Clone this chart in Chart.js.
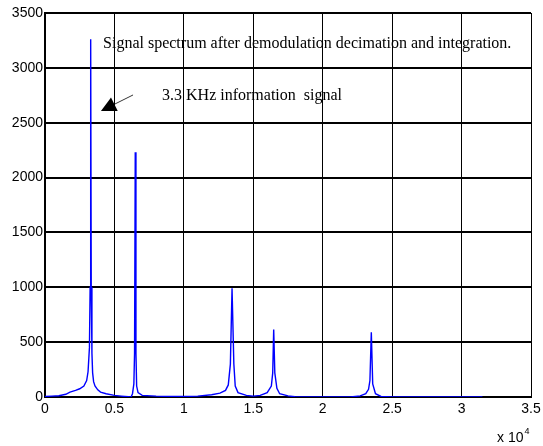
<!DOCTYPE html>
<html><head><meta charset="utf-8">
<script src="https://cdn.jsdelivr.net/npm/chart.js@4/dist/chart.umd.min.js"></script>
<style>html,body{margin:0;padding:0;background:#fff;}canvas{display:block;}</style>
</head><body>
<canvas id="c" width="543" height="446"></canvas>
<script>
// Frequency (Hz) and spectrum magnitude
const freqHz = [0,500,1000,1500,1800,2200,2500,2800,3000,3100,3200,3250,3290,3330,3380,3430,3500,3600,3800,4000,4400,5000,5500,6000,6200,6300,6400,6450,6500,6550,6600,6700,7000,8000,9000,10000,11000,12000,12600,13000,13200,13350,13470,13600,13700,13900,14500,15000,15500,16000,16300,16400,16470,16550,16700,16900,17500,18000,19000,22000,22700,23100,23300,23400,23500,23600,23800,24200,25000,31500];
const magnitude = [5,8,12,25,45,60,75,100,150,230,450,1000,3260,1000,400,220,140,100,65,45,30,15,8,2,0,30,120,400,2230,400,100,40,15,8,5,5,8,20,35,60,110,300,990,300,100,40,15,8,15,40,100,220,615,220,80,30,10,2,0,0,10,30,70,150,590,120,30,5,0,0];
const xTicks = [0,5000,10000,15000,20000,25000,30000,35000];
const yTicks = [0,500,1000,1500,2000,2500,3000,3500];
const titleText = "Signal spectrum after demodulation decimation and integration.";
const arrowText = "3.3 KHz information  signal";
const titleAt = {x: 4180, y: 3220};
const labelAt = {x: 8430, y: 2745};
const arrowTail = {x: 6340, y: 2753};
const arrowHead = {x: 4030, y: 2607};

const pts = freqHz.map((f, i) => ({x: f, y: magnitude[i]}));

const annot = {
  id: 'annot',
  afterDraw(chart) {
    const {ctx, scales: {x, y}, chartArea} = chart;
    ctx.save();
    ctx.fillStyle = '#000';
    ctx.strokeStyle = '#000';
    ctx.font = '16px "Liberation Serif", "Times New Roman", serif';
    ctx.textBaseline = 'middle';
    ctx.textAlign = 'left';
    ctx.fillText(titleText, x.getPixelForValue(titleAt.x), y.getPixelForValue(titleAt.y));
    ctx.fillText(arrowText, x.getPixelForValue(labelAt.x), y.getPixelForValue(labelAt.y));
    // arrow
    const tx = x.getPixelForValue(arrowTail.x), ty = y.getPixelForValue(arrowTail.y);
    const hx = x.getPixelForValue(arrowHead.x), hy = y.getPixelForValue(arrowHead.y);
    const ang = Math.atan2(hy - ty, hx - tx);
    const L = 15, W = 7.5;
    const bx = hx - L * Math.cos(ang), by = hy - L * Math.sin(ang);
    ctx.lineWidth = 0.8;
    ctx.beginPath(); ctx.moveTo(tx, ty); ctx.lineTo(bx, by); ctx.stroke();
    ctx.beginPath();
    ctx.moveTo(hx, hy);
    ctx.lineTo(bx + W * Math.sin(ang), by - W * Math.cos(ang));
    ctx.lineTo(bx - W * Math.sin(ang), by + W * Math.cos(ang));
    ctx.closePath(); ctx.fill();
    // x 10^4
    ctx.font = '14px "Liberation Sans", Arial, sans-serif';
    ctx.textAlign = 'left';
    ctx.textBaseline = 'alphabetic';
    const ex = chartArea.right - 34, ey = 442;
    ctx.fillText('x 10', ex, ey);
    const w = ctx.measureText('x 10').width;
    ctx.font = '9px "Liberation Sans", Arial, sans-serif';
    ctx.fillText('4', ex + w + 1, ey - 8);
    ctx.restore();
  }
};

new Chart(document.getElementById('c'), {
  type: 'line',
  data: { datasets: [{
    data: pts, borderColor: '#0000ff', borderWidth: 1.4, pointRadius: 0, tension: 0, fill: false
  }]},
  options: {
    responsive: false, animation: false,
    layout: { padding: { top: 13, right: 12, left: 0, bottom: 0 } },
    plugins: { legend: { display: false }, tooltip: { enabled: false } },
    scales: {
      x: {
        type: 'linear', min: 0, max: 35000,
        afterBuildTicks(s) { s.ticks = xTicks.map(v => ({value: v})); },
        afterFit(s) { s.height = 49; s.paddingRight = 0; s.paddingLeft = 0; },
        ticks: { color: '#000', font: { family: '"Liberation Sans", Arial, sans-serif', size: 14 }, padding: 4, maxRotation: 0,
          callback: v => String(v / 10000) },
        grid: { color: '#000', lineWidth: 1, drawTicks: false },
        border: { color: '#000', width: 2 }
      },
      y: {
        min: 0, max: 3500,
        afterBuildTicks(s) { s.ticks = yTicks.map(v => ({value: v})); },
        afterFit(s) { s.width = 45; s.paddingTop = 0; s.paddingBottom = 0; },
        ticks: { color: '#000', font: { family: '"Liberation Sans", Arial, sans-serif', size: 14 }, padding: 2,
          callback: v => String(v) },
        grid: { color: '#000', lineWidth: 2, drawTicks: false },
        border: { color: '#000', width: 2 }
      }
    }
  },
  plugins: [annot]
});
</script>
</body></html>
